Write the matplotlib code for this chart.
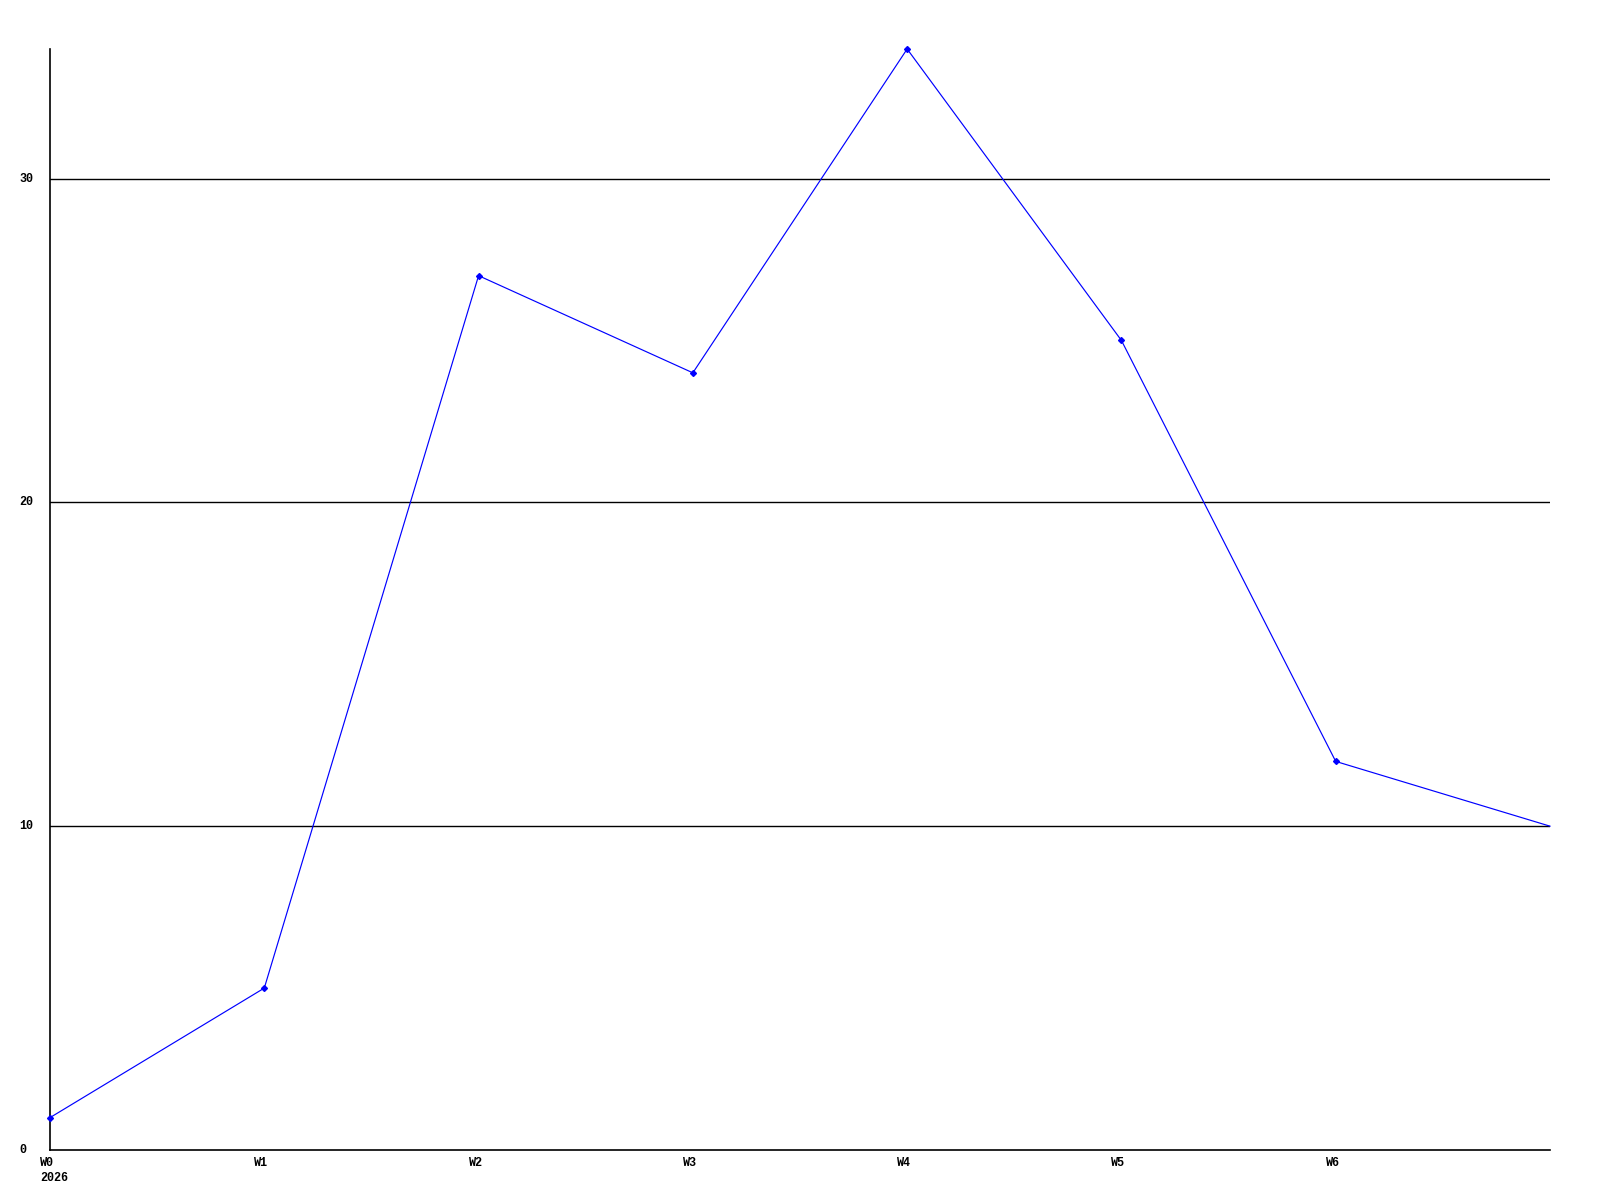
import matplotlib
matplotlib.use("Agg")
import matplotlib.pyplot as plt
from matplotlib.transforms import offset_copy
import matplotlib.transforms as mtrans

x_labels = ["W0", "W1", "W2", "W3", "W4", "W5", "W6"]
year_label = "2026"
values = [1, 5, 27, 24, 34, 25, 12, 10]
y_ticks = [0, 10, 20, 30]

fig = plt.figure(figsize=(16, 12), dpi=100)
ax = fig.add_axes([50/1600, 1 - 1150/1200, 1500/1600, 1101/1200])
xs = list(range(len(values)))
ax.set_xlim(0, len(values) - 1)
ax.set_ylim(0, 34)

for v in y_ticks[1:]:
    ax.axhline(v, color="black", lw=1.0, zorder=1)

ax.plot(xs, values, color="#0000ff", lw=0.85, marker="D", markersize=3,
        markevery=list(range(len(x_labels))), zorder=3, clip_on=False)

for s in ["top", "right"]:
    ax.spines[s].set_visible(False)
for s in ["left", "bottom"]:
    ax.spines[s].set_linewidth(1.2)
    ax.spines[s].set_color("black")
ax.set_xticks([])
ax.set_yticks([])

font = dict(family="Liberation Mono", weight="bold", fontsize=8.5, color="black")

ytrans = mtrans.blended_transform_factory(fig.transFigure, ax.transData)
for v in y_ticks:
    ax.text(19/1600, v, str(v), transform=ytrans, ha="left", va="center", **font)

for i, lab in enumerate(x_labels):
    t = offset_copy(ax.transData, fig=fig, x=-10, y=-7, units="dots")
    ax.text(i, 0, lab, transform=t, ha="left", va="top", **font)
t = offset_copy(ax.transData, fig=fig, x=-10, y=-22, units="dots")
ax.text(0, 0, year_label, transform=t, ha="left", va="top", **font)

fig.savefig("out.png", dpi=100, facecolor="white")
